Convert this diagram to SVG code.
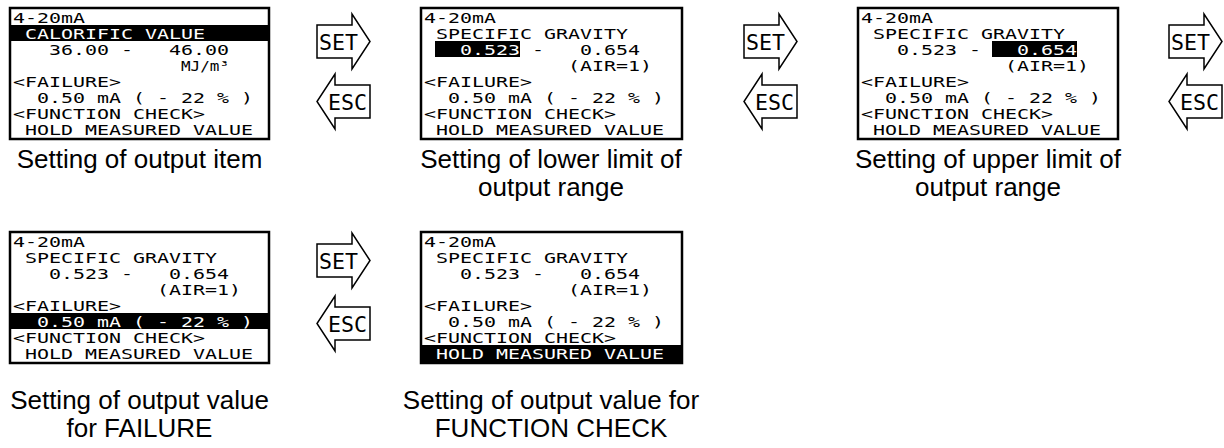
<svg xmlns="http://www.w3.org/2000/svg" width="1224" height="448" viewBox="0 0 1224 448">
<style>
.lcd{fill:#fff;stroke:#000;stroke-width:2.5}
.bar{fill:#000}
.t{font-family:"DejaVu Sans Mono",monospace;font-size:13.5px;fill:#000}
.w{fill:#fff}
.lbl{font-family:"Liberation Sans",Arial,sans-serif;font-size:26px;text-anchor:middle;fill:#000}
.arr{fill:#fff;stroke:#000;stroke-width:1.5;stroke-linejoin:miter}
.at{font-family:"DejaVu Sans Mono",monospace;font-size:22px;fill:#000}
</style>
<defs>
<path id="setA" class="arr" d="M0,11 H35 V0 L53,27.5 L35,55 V44 H0 Z"/>
<path id="escA" class="arr" d="M53,11 H18 V0 L0,27.5 L18,55 V44 H53 Z"/>
</defs>

<g id="screen-output-item">
<rect class="lcd" x="10" y="8" width="259" height="131"/>
<rect class="bar" x="11" y="25" width="257" height="16"/>
<text class="t" x="13" y="23" textLength="72" lengthAdjust="spacingAndGlyphs">4-20mA</text>
<text class="t w" x="25" y="39" textLength="108" lengthAdjust="spacingAndGlyphs">CALORIFIC</text>
<text class="t w" x="145" y="39" textLength="60" lengthAdjust="spacingAndGlyphs">VALUE</text>
<text class="t" x="49" y="55" textLength="60" lengthAdjust="spacingAndGlyphs">36.00</text>
<text class="t" x="121" y="55" textLength="12" lengthAdjust="spacingAndGlyphs">-</text>
<text class="t" x="169" y="55" textLength="60" lengthAdjust="spacingAndGlyphs">46.00</text>
<text class="t" x="181" y="71" textLength="48" lengthAdjust="spacingAndGlyphs">MJ/m³</text>
<text class="t" x="13" y="87" textLength="108" lengthAdjust="spacingAndGlyphs">&lt;FAILURE&gt;</text>
<text class="t" x="37" y="103" textLength="48" lengthAdjust="spacingAndGlyphs">0.50</text>
<text class="t" x="97" y="103" textLength="24" lengthAdjust="spacingAndGlyphs">mA</text>
<text class="t" x="133" y="103" textLength="12" lengthAdjust="spacingAndGlyphs">(</text>
<text class="t" x="157" y="103" textLength="12" lengthAdjust="spacingAndGlyphs">-</text>
<text class="t" x="181" y="103" textLength="24" lengthAdjust="spacingAndGlyphs">22</text>
<text class="t" x="217" y="103" textLength="12" lengthAdjust="spacingAndGlyphs">%</text>
<text class="t" x="241" y="103" textLength="12" lengthAdjust="spacingAndGlyphs">)</text>
<text class="t" x="13" y="119" textLength="108" lengthAdjust="spacingAndGlyphs">&lt;FUNCTION</text>
<text class="t" x="133" y="119" textLength="72" lengthAdjust="spacingAndGlyphs">CHECK&gt;</text>
<text class="t" x="25" y="135" textLength="48" lengthAdjust="spacingAndGlyphs">HOLD</text>
<text class="t" x="85" y="135" textLength="96" lengthAdjust="spacingAndGlyphs">MEASURED</text>
<text class="t" x="193" y="135" textLength="60" lengthAdjust="spacingAndGlyphs">VALUE</text>
<text class="lbl" x="139.5" y="168">Setting of output item</text>
</g>

<g id="screen-lower-limit">
<rect class="lcd" x="421" y="8" width="261" height="131"/>
<rect class="bar" x="435" y="41" width="85" height="16"/>
<text class="t" x="424" y="23" textLength="72" lengthAdjust="spacingAndGlyphs">4-20mA</text>
<text class="t" x="436" y="39" textLength="96" lengthAdjust="spacingAndGlyphs">SPECIFIC</text>
<text class="t" x="544" y="39" textLength="84" lengthAdjust="spacingAndGlyphs">GRAVITY</text>
<text class="t w" x="460" y="55" textLength="60" lengthAdjust="spacingAndGlyphs">0.523</text>
<text class="t" x="532" y="55" textLength="12" lengthAdjust="spacingAndGlyphs">-</text>
<text class="t" x="580" y="55" textLength="60" lengthAdjust="spacingAndGlyphs">0.654</text>
<text class="t" x="568" y="71" textLength="84" lengthAdjust="spacingAndGlyphs">(AIR=1)</text>
<text class="t" x="424" y="87" textLength="108" lengthAdjust="spacingAndGlyphs">&lt;FAILURE&gt;</text>
<text class="t" x="448" y="103" textLength="48" lengthAdjust="spacingAndGlyphs">0.50</text>
<text class="t" x="508" y="103" textLength="24" lengthAdjust="spacingAndGlyphs">mA</text>
<text class="t" x="544" y="103" textLength="12" lengthAdjust="spacingAndGlyphs">(</text>
<text class="t" x="568" y="103" textLength="12" lengthAdjust="spacingAndGlyphs">-</text>
<text class="t" x="592" y="103" textLength="24" lengthAdjust="spacingAndGlyphs">22</text>
<text class="t" x="628" y="103" textLength="12" lengthAdjust="spacingAndGlyphs">%</text>
<text class="t" x="652" y="103" textLength="12" lengthAdjust="spacingAndGlyphs">)</text>
<text class="t" x="424" y="119" textLength="108" lengthAdjust="spacingAndGlyphs">&lt;FUNCTION</text>
<text class="t" x="544" y="119" textLength="72" lengthAdjust="spacingAndGlyphs">CHECK&gt;</text>
<text class="t" x="436" y="135" textLength="48" lengthAdjust="spacingAndGlyphs">HOLD</text>
<text class="t" x="496" y="135" textLength="96" lengthAdjust="spacingAndGlyphs">MEASURED</text>
<text class="t" x="604" y="135" textLength="60" lengthAdjust="spacingAndGlyphs">VALUE</text>
<text class="lbl" x="551" y="168">Setting of lower limit of</text>
<text class="lbl" x="551" y="196">output range</text>
</g>

<g id="screen-upper-limit">
<rect class="lcd" x="858" y="8" width="260" height="131"/>
<rect class="bar" x="992" y="41" width="85" height="16"/>
<text class="t" x="861" y="23" textLength="72" lengthAdjust="spacingAndGlyphs">4-20mA</text>
<text class="t" x="873" y="39" textLength="96" lengthAdjust="spacingAndGlyphs">SPECIFIC</text>
<text class="t" x="981" y="39" textLength="84" lengthAdjust="spacingAndGlyphs">GRAVITY</text>
<text class="t" x="897" y="55" textLength="60" lengthAdjust="spacingAndGlyphs">0.523</text>
<text class="t" x="969" y="55" textLength="12" lengthAdjust="spacingAndGlyphs">-</text>
<text class="t w" x="1017" y="55" textLength="60" lengthAdjust="spacingAndGlyphs">0.654</text>
<text class="t" x="1005" y="71" textLength="84" lengthAdjust="spacingAndGlyphs">(AIR=1)</text>
<text class="t" x="861" y="87" textLength="108" lengthAdjust="spacingAndGlyphs">&lt;FAILURE&gt;</text>
<text class="t" x="885" y="103" textLength="48" lengthAdjust="spacingAndGlyphs">0.50</text>
<text class="t" x="945" y="103" textLength="24" lengthAdjust="spacingAndGlyphs">mA</text>
<text class="t" x="981" y="103" textLength="12" lengthAdjust="spacingAndGlyphs">(</text>
<text class="t" x="1005" y="103" textLength="12" lengthAdjust="spacingAndGlyphs">-</text>
<text class="t" x="1029" y="103" textLength="24" lengthAdjust="spacingAndGlyphs">22</text>
<text class="t" x="1065" y="103" textLength="12" lengthAdjust="spacingAndGlyphs">%</text>
<text class="t" x="1089" y="103" textLength="12" lengthAdjust="spacingAndGlyphs">)</text>
<text class="t" x="861" y="119" textLength="108" lengthAdjust="spacingAndGlyphs">&lt;FUNCTION</text>
<text class="t" x="981" y="119" textLength="72" lengthAdjust="spacingAndGlyphs">CHECK&gt;</text>
<text class="t" x="873" y="135" textLength="48" lengthAdjust="spacingAndGlyphs">HOLD</text>
<text class="t" x="933" y="135" textLength="96" lengthAdjust="spacingAndGlyphs">MEASURED</text>
<text class="t" x="1041" y="135" textLength="60" lengthAdjust="spacingAndGlyphs">VALUE</text>
<text class="lbl" x="988" y="168">Setting of upper limit of</text>
<text class="lbl" x="988" y="196">output range</text>
</g>

<g id="screen-failure">
<rect class="lcd" x="10" y="232" width="259" height="131"/>
<rect class="bar" x="11" y="313" width="257" height="16"/>
<text class="t" x="13" y="247" textLength="72" lengthAdjust="spacingAndGlyphs">4-20mA</text>
<text class="t" x="25" y="263" textLength="96" lengthAdjust="spacingAndGlyphs">SPECIFIC</text>
<text class="t" x="133" y="263" textLength="84" lengthAdjust="spacingAndGlyphs">GRAVITY</text>
<text class="t" x="49" y="279" textLength="60" lengthAdjust="spacingAndGlyphs">0.523</text>
<text class="t" x="121" y="279" textLength="12" lengthAdjust="spacingAndGlyphs">-</text>
<text class="t" x="169" y="279" textLength="60" lengthAdjust="spacingAndGlyphs">0.654</text>
<text class="t" x="157" y="295" textLength="84" lengthAdjust="spacingAndGlyphs">(AIR=1)</text>
<text class="t" x="13" y="311" textLength="108" lengthAdjust="spacingAndGlyphs">&lt;FAILURE&gt;</text>
<text class="t w" x="37" y="327" textLength="48" lengthAdjust="spacingAndGlyphs">0.50</text>
<text class="t w" x="97" y="327" textLength="24" lengthAdjust="spacingAndGlyphs">mA</text>
<text class="t w" x="133" y="327" textLength="12" lengthAdjust="spacingAndGlyphs">(</text>
<text class="t w" x="157" y="327" textLength="12" lengthAdjust="spacingAndGlyphs">-</text>
<text class="t w" x="181" y="327" textLength="24" lengthAdjust="spacingAndGlyphs">22</text>
<text class="t w" x="217" y="327" textLength="12" lengthAdjust="spacingAndGlyphs">%</text>
<text class="t w" x="241" y="327" textLength="12" lengthAdjust="spacingAndGlyphs">)</text>
<text class="t" x="13" y="343" textLength="108" lengthAdjust="spacingAndGlyphs">&lt;FUNCTION</text>
<text class="t" x="133" y="343" textLength="72" lengthAdjust="spacingAndGlyphs">CHECK&gt;</text>
<text class="t" x="25" y="359" textLength="48" lengthAdjust="spacingAndGlyphs">HOLD</text>
<text class="t" x="85" y="359" textLength="96" lengthAdjust="spacingAndGlyphs">MEASURED</text>
<text class="t" x="193" y="359" textLength="60" lengthAdjust="spacingAndGlyphs">VALUE</text>
<text class="lbl" x="139.5" y="409">Setting of output value</text>
<text class="lbl" x="139.5" y="437">for FAILURE</text>
</g>

<g id="screen-function-check">
<rect class="lcd" x="421" y="232" width="261" height="131"/>
<rect class="bar" x="422" y="345" width="259" height="17"/>
<text class="t" x="424" y="247" textLength="72" lengthAdjust="spacingAndGlyphs">4-20mA</text>
<text class="t" x="436" y="263" textLength="96" lengthAdjust="spacingAndGlyphs">SPECIFIC</text>
<text class="t" x="544" y="263" textLength="84" lengthAdjust="spacingAndGlyphs">GRAVITY</text>
<text class="t" x="460" y="279" textLength="60" lengthAdjust="spacingAndGlyphs">0.523</text>
<text class="t" x="532" y="279" textLength="12" lengthAdjust="spacingAndGlyphs">-</text>
<text class="t" x="580" y="279" textLength="60" lengthAdjust="spacingAndGlyphs">0.654</text>
<text class="t" x="568" y="295" textLength="84" lengthAdjust="spacingAndGlyphs">(AIR=1)</text>
<text class="t" x="424" y="311" textLength="108" lengthAdjust="spacingAndGlyphs">&lt;FAILURE&gt;</text>
<text class="t" x="448" y="327" textLength="48" lengthAdjust="spacingAndGlyphs">0.50</text>
<text class="t" x="508" y="327" textLength="24" lengthAdjust="spacingAndGlyphs">mA</text>
<text class="t" x="544" y="327" textLength="12" lengthAdjust="spacingAndGlyphs">(</text>
<text class="t" x="568" y="327" textLength="12" lengthAdjust="spacingAndGlyphs">-</text>
<text class="t" x="592" y="327" textLength="24" lengthAdjust="spacingAndGlyphs">22</text>
<text class="t" x="628" y="327" textLength="12" lengthAdjust="spacingAndGlyphs">%</text>
<text class="t" x="652" y="327" textLength="12" lengthAdjust="spacingAndGlyphs">)</text>
<text class="t" x="424" y="343" textLength="108" lengthAdjust="spacingAndGlyphs">&lt;FUNCTION</text>
<text class="t" x="544" y="343" textLength="72" lengthAdjust="spacingAndGlyphs">CHECK&gt;</text>
<text class="t w" x="436" y="359" textLength="48" lengthAdjust="spacingAndGlyphs">HOLD</text>
<text class="t w" x="496" y="359" textLength="96" lengthAdjust="spacingAndGlyphs">MEASURED</text>
<text class="t w" x="604" y="359" textLength="60" lengthAdjust="spacingAndGlyphs">VALUE</text>
<text class="lbl" x="551" y="409">Setting of output value for</text>
<text class="lbl" x="551" y="437">FUNCTION CHECK</text>
</g>

<g id="connectors">
<use href="#setA" x="317" y="14"/>
<text class="at" x="319" y="50" textLength="39" lengthAdjust="spacingAndGlyphs">SET</text>
<use href="#escA" x="317" y="74"/>
<text class="at" x="328" y="110" textLength="39" lengthAdjust="spacingAndGlyphs">ESC</text>
<use href="#setA" x="744" y="14"/>
<text class="at" x="746" y="50" textLength="39" lengthAdjust="spacingAndGlyphs">SET</text>
<use href="#escA" x="744" y="74"/>
<text class="at" x="755" y="110" textLength="39" lengthAdjust="spacingAndGlyphs">ESC</text>
<use href="#setA" x="1169" y="14"/>
<text class="at" x="1171" y="50" textLength="39" lengthAdjust="spacingAndGlyphs">SET</text>
<use href="#escA" x="1169" y="74"/>
<text class="at" x="1180" y="110" textLength="39" lengthAdjust="spacingAndGlyphs">ESC</text>
<use href="#setA" x="317" y="233"/>
<text class="at" x="319" y="269" textLength="39" lengthAdjust="spacingAndGlyphs">SET</text>
<use href="#escA" x="317" y="296"/>
<text class="at" x="328" y="332" textLength="39" lengthAdjust="spacingAndGlyphs">ESC</text>
</g>
</svg>
